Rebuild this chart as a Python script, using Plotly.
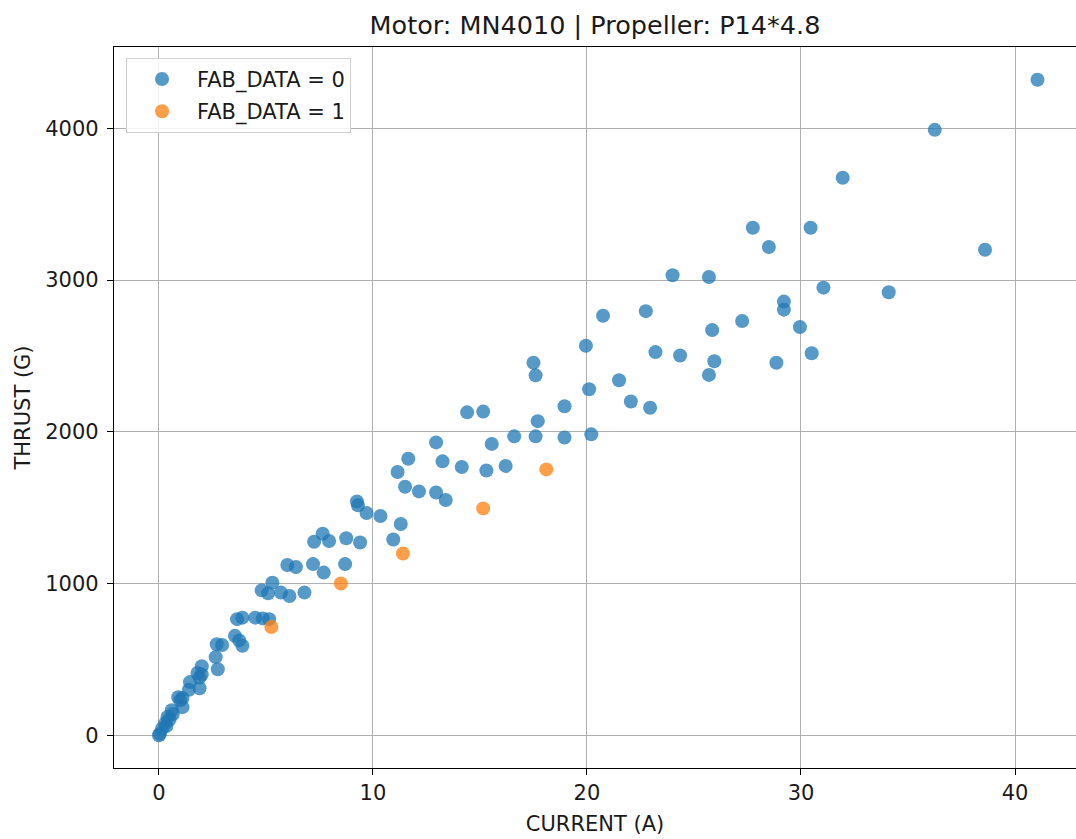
import plotly.graph_objects as go

# FAB_DATA = 0 (blue)
current_0 = [0.0, 0.05, 0.15, 0.3, 0.35, 0.4, 0.5, 0.6, 0.65, 0.9, 1.0, 1.1, 1.1, 1.4, 1.45,
             1.9, 1.8, 2.0, 2.0, 1.9, 2.75, 2.65, 2.7, 2.95, 3.55, 3.75, 3.9, 3.65, 3.9, 4.5,
             4.85, 5.15, 4.8, 5.1, 5.3, 5.7, 6.1, 6.8, 6.0, 6.4, 7.2, 7.7, 7.25, 7.65, 7.95,
             8.75, 8.7, 9.4, 9.25, 9.3, 9.7, 10.35, 11.3, 10.95, 11.15, 11.5, 11.65, 12.15,
             12.95, 13.4, 12.95, 13.25, 14.15, 14.4, 15.15, 15.3, 15.55, 16.2, 16.6, 17.5,
             17.6, 17.6, 17.7, 18.95, 18.95, 19.95, 20.1, 20.2, 20.75, 21.5, 22.05, 22.75,
             22.95, 23.2, 24.0, 24.35, 25.7, 25.85, 25.95, 25.7, 27.25, 27.75, 28.5, 28.85,
             29.2, 29.2, 29.95, 30.45, 30.5, 31.05, 31.95, 34.1, 36.25, 38.6, 41.05]
thrust_0 = [0, 10, 45, 80, 60, 120, 105, 165, 140, 250, 230, 245, 185, 300, 350,
            310, 410, 400, 455, 380, 435, 515, 600, 595, 655, 625, 590, 765, 775, 775,
            770, 765, 955, 935, 1005, 940, 918, 940, 1122, 1108, 1128, 1072, 1275, 1328, 1280,
            1298, 1128, 1270, 1540, 1515, 1465, 1445, 1392, 1290, 1735, 1638, 1822, 1607,
            1600, 1550, 1930, 1805, 1768, 2128, 2133, 1745, 1920, 1775, 1970, 2455,
            2372, 1970, 2070, 2168, 1962, 2567, 2280, 1983, 2765, 2340, 2200, 2795,
            2158, 2525, 3032, 2503, 3020, 2670, 2465, 2375, 2730, 3345, 3218, 2455,
            2858, 2805, 2690, 3345, 2518, 2950, 3674, 2920, 3990, 3200, 4320]

# FAB_DATA = 1 (orange)
current_1 = [5.25, 8.5, 11.4, 15.15, 18.1]
thrust_1 = [713, 1000, 1198, 1495, 1752]

x_ticks = [0, 10, 20, 30, 40]
y_ticks = [0, 1000, 2000, 3000, 4000]

FONT = "DejaVu Sans"

fig = go.Figure()
fig.add_trace(go.Scatter(
    x=current_0, y=thrust_0, mode="markers", name="FAB_DATA = 0",
    legendgroup="g0",
    marker=dict(color="#1f77b4", size=14, opacity=0.75, line=dict(width=0)),
))
fig.add_trace(go.Scatter(
    x=current_1, y=thrust_1, mode="markers", name="FAB_DATA = 1",
    legendgroup="g1",
    marker=dict(color="#ff7f0e", size=14, opacity=0.75, line=dict(width=0)),
))

axis_common = dict(
    showgrid=True, gridcolor="#b0b0b0", gridwidth=1,
    zeroline=False,
    showline=True, linecolor="black", linewidth=1.3,
    ticks="outside", ticklen=6, tickwidth=1.2, tickcolor="black",
    tickfont=dict(family=FONT, size=21, color="#1a1a1a"),
)

fig.update_layout(
    width=1076, height=839,
    margin=dict(l=114, r=0, t=47, b=71),
    paper_bgcolor="white", plot_bgcolor="white",
    font=dict(family=FONT, color="#1a1a1a"),
    title=dict(text="Motor: MN4010 | Propeller: P14*4.8",
               font=dict(family=FONT, size=25.5, color="#1a1a1a"),
               x=0.5, xref="paper", xanchor="center",
               y=1 - 25 / 839, yref="container", yanchor="middle"),
    xaxis=dict(range=[-2.1, 42.85], tickvals=x_ticks, mirror=True,
               title=dict(text="CURRENT (A)", font=dict(family=FONT, size=21), standoff=11),
               **axis_common),
    yaxis=dict(range=[-216, 4536], tickvals=y_ticks, ticklabelstandoff=4,
               title=dict(text="THRUST (G)", font=dict(family=FONT, size=21), standoff=8),
               **axis_common),
    showlegend=True,
    legend=dict(x=0.0125, y=0.985, xanchor="left", yanchor="top",
                bgcolor="rgba(255,255,255,0.85)", bordercolor="#d0d0d0", borderwidth=1,
                font=dict(family=FONT, size=21, color="#1a1a1a"),
                tracegroupgap=2, itemwidth=60),
)

fig.write_html("out.html")
